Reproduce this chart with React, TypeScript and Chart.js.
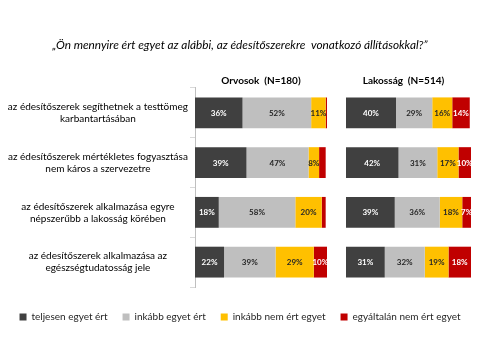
import React, { useEffect, useRef } from "react";
import { Chart, registerables } from "chart.js";

Chart.register(...registerables);

const TITLE = "„Ön mennyire ért egyet az alábbi, az édesítőszerekre  vonatkozó állításokkal?”";
const PANEL_LEFT = "Orvosok  (N=180)";
const PANEL_RIGHT = "Lakosság  (N=514)";

const categories: string[][] = [
  ["az édesítőszerek segíthetnek a testtömeg", "karbantartásában"],
  ["az édesítőszerek mértékletes fogyasztása", "nem káros a szervezetre"],
  ["az édesítőszerek alkalmazása egyre", "népszerűbb a lakosság körében"],
  ["az édesítőszerek alkalmazása az", "egészségtudatosság jele"],
];

const seriesNames = [
  "teljesen egyet ért",
  "inkább egyet ért",
  "inkább nem ért egyet",
  "egyáltalán nem ért egyet",
];

// Orvosok (N=180)
const orvosTeljesen = [36, 39, 18, 22];
const orvosInkabb = [52, 47, 58, 39];
const orvosInkabbNem = [11, 8, 20, 29];
const orvosEgyaltalan = [1, 5, 3, 10];

// Lakosság (N=514)
const lakTeljesen = [40, 42, 39, 31];
const lakInkabb = [29, 31, 36, 32];
const lakInkabbNem = [16, 17, 18, 19];
const lakEgyaltalan = [14, 10, 7, 18];

const colors = ["#404040", "#bfbfbf", "#ffc000", "#c00000"];
const labelColors = ["#ffffff", "#262626", "#262626", "#ffffff"];

const dataLabelPlugin = {
  id: "dataLabels",
  afterDatasetsDraw(chart: any) {
    const ctx = chart.ctx;
    ctx.save();
    ctx.font = "bold 8px Lato";
    ctx.textAlign = "center";
    ctx.textBaseline = "middle";
    chart.data.datasets.forEach((ds: any, di: number) => {
      const meta = chart.getDatasetMeta(di);
      meta.data.forEach((el: any, i: number) => {
        const v = ds.data[i];
        if (v < 7) return;
        const p = el.getProps(["x", "y", "base"], true);
        ctx.fillStyle = labelColors[di % 4];
        ctx.fillText(v + "%", (p.x + p.base) / 2, p.y + 0.5);
      });
    });
    ctx.restore();
  },
};

export default function App() {
  const ref = useRef<HTMLCanvasElement>(null);

  useEffect(() => {
    if (!ref.current) return;
    Chart.defaults.font.family = "Lato";
    const left = [orvosTeljesen, orvosInkabb, orvosInkabbNem, orvosEgyaltalan];
    const right = [lakTeljesen, lakInkabb, lakInkabbNem, lakEgyaltalan];
    const datasets: any[] = [];
    left.forEach((d, i) =>
      datasets.push({
        label: seriesNames[i],
        data: d,
        backgroundColor: colors[i],
        xAxisID: "xL",
        grouped: false,
        categoryPercentage: 1,
        barPercentage: 0.62,
      })
    );
    right.forEach((d, i) =>
      datasets.push({
        label: seriesNames[i] + " ",
        data: d,
        backgroundColor: colors[i],
        xAxisID: "xR",
        grouped: false,
        categoryPercentage: 1,
        barPercentage: 0.62,
      })
    );

    const topAxis = (title: string, min: number, max: number, weight: number) => ({
      type: "linear",
      position: "top",
      stack: "panels",
      stackWeight: weight,
      stacked: true,
      min,
      max,
      ticks: { display: false },
      grid: { display: false, drawTicks: false },
      border: { display: false },
      title: {
        display: true,
        text: title,
        color: "#000000",
        font: { size: 10, weight: "bold" },
        padding: { top: 13, bottom: 0 },
      },
      afterFit: (s: any) => {
        s.height = 25.8;
      },
    });

    const chart = new Chart(ref.current, {
      type: "bar",
      data: { labels: categories, datasets },
      plugins: [dataLabelPlugin],
      options: {
        indexAxis: "y",
        animation: false,
        responsive: false,
        maintainAspectRatio: false,
        layout: { padding: { left: 0, right: 0, top: 0, bottom: 23 } },
        scales: {
          y: {
            type: "category",
            position: "left",
            stacked: true,
            offset: true,
            grid: {
              display: true,
              offset: true,
              drawOnChartArea: false,
              tickLength: 5,
              color: "#d9d9d9",
            },
            border: { display: true, color: "#bfbfbf" },
            ticks: {
              crossAlign: "center",
              padding: 2,
              color: "#000000",
              font: { size: 10 },
            },
            afterFit: (s: any) => {
              s.width = 195;
            },
          },
          xR: topAxis(PANEL_RIGHT, -15.2, 107.2, 153),
          xL: topAxis(PANEL_LEFT, 0, 100, 132),
          spacer: {
            type: "linear",
            position: "bottom",
            display: true,
            ticks: { display: false },
            grid: { display: false, drawTicks: false },
            border: { display: false },
            afterFit: (s: any) => {
              s.height = 10;
            },
          },
        } as any,
        plugins: {
          title: {
            display: true,
            text: TITLE,
            color: "#000000",
            font: { size: 11.8, style: "italic", weight: "normal" },
            padding: { top: 38, bottom: 10 },
          },
          legend: {
            display: true,
            position: "bottom",
            labels: {
              boxWidth: 7,
              boxHeight: 7,
              padding: 15,
              color: "#262626",
              font: { size: 10 },
              filter: (item: any) => item.datasetIndex < 4,
            },
          },
          tooltip: { enabled: false },
        },
      } as any,
    });
    return () => chart.destroy();
  }, []);

  return (
    <div style={{ position: "fixed", left: 0, top: 0, width: 480, height: 355, background: "#fff" }}>
      <canvas ref={ref} width={480} height={355} style={{ width: 480, height: 355 }} />
    </div>
  );
}
